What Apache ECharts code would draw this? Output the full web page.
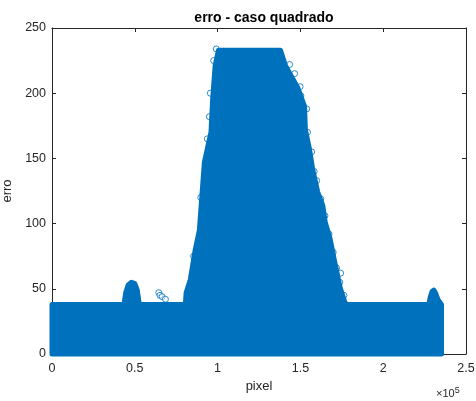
<!DOCTYPE html>
<html>
<head>
<meta charset="utf-8">
<script src="https://cdn.jsdelivr.net/npm/echarts@6/dist/echarts.min.js"></script>
<style>
  html, body { margin: 0; padding: 0; background: #fff; }
  #chart { width: 476px; height: 401px; }
</style>
</head>
<body>
<div id="chart"></div>
<script>
// Upper envelope of the error scatter (pixel index -> erro)
const envX = [0, 43500, 44500, 46000, 48000, 50000, 51500, 52500, 53000,
  80500, 81000, 83500, 86500, 89000, 92000, 96000, 97000, 98500, 100500,
  138000, 141000, 148500, 152500, 153000, 155500, 157500, 160500, 163500,
  165000, 168000, 170500, 174000, 177000, 178500,
  227500, 228500, 229500, 230500, 231500, 233000, 234000, 235200];
const envY = [38, 38, 47, 53, 55, 54, 49, 40, 38,
  38, 47, 57, 80, 95, 147, 170, 195, 221, 233,
  233, 221, 204, 190, 172, 157, 141, 124, 114,
  101, 88, 72, 51, 39, 38,
  38, 44, 48, 49, 47, 42, 40, 38];

// Isolated points sitting just outside the dense region
const edgeX = [64500, 65200, 66500, 68500, 85500, 89800, 93800, 95000, 95600, 97600, 99200,
  143500, 146500, 149800, 150300, 153800, 154300, 156800, 158300, 159800,
  162300, 164800, 167300, 169800, 171800, 173800, 176300, 174300];
const edgeY = [47, 45, 44, 42, 75, 120, 165, 182, 200, 225, 234,
  222, 215, 205, 198, 188, 170, 155, 140, 133,
  119, 106, 92, 78, 66, 55, 45, 62];

const xTicks = [0, 50000, 100000, 150000, 200000, 250000];
const yTicks = [0, 50, 100, 150, 200, 250];

const BLUE = '#0072BD';
const INK = '#262626';
const FONT = '"Liberation Sans", Arial, Helvetica, sans-serif';

const chart = echarts.init(document.getElementById('chart'), null, { renderer: 'canvas' });

const baseX = {
  type: 'value', min: xTicks[0], max: xTicks[xTicks.length - 1],
  interval: xTicks[1] - xTicks[0],
  splitLine: { show: false },
  axisLine: { show: true, onZero: false, lineStyle: { color: INK, width: 1 } },
  axisTick: { show: true, inside: true, length: 4, lineStyle: { color: INK } }
};
const baseY = {
  type: 'value', min: yTicks[0], max: yTicks[yTicks.length - 1],
  interval: yTicks[1] - yTicks[0],
  splitLine: { show: false },
  axisLine: { show: true, onZero: false, lineStyle: { color: INK, width: 1 } },
  axisTick: { show: true, inside: true, length: 4, lineStyle: { color: INK } }
};

chart.setOption({
  animation: false,
  backgroundColor: '#ffffff',
  title: {
    text: 'erro - caso quadrado',
    left: 259, top: 6, textAlign: 'center',
    textStyle: { fontFamily: FONT, fontSize: 14, fontWeight: 'bold', color: '#000' }
  },
  grid: { left: 52, right: 10, top: 28, bottom: 47, containLabel: false, outerBoundsMode: 'none' },
  xAxis: [
    Object.assign({}, baseX, {
      position: 'bottom',
      name: 'pixel', nameLocation: 'middle', nameGap: 26,
      nameTextStyle: { fontFamily: FONT, fontSize: 13, color: INK },
      axisLabel: {
        show: true, margin: 8, fontFamily: FONT, fontSize: 12.5, color: INK,
        formatter: v => String(v / 100000)
      }
    }),
    Object.assign({}, baseX, { position: 'top', axisLabel: { show: false } })
  ],
  yAxis: [
    Object.assign({}, baseY, {
      position: 'left',
      name: 'erro', nameLocation: 'middle', nameGap: 26, nameRotate: 90,
      nameTextStyle: { fontFamily: FONT, fontSize: 13, color: INK },
      axisLabel: { show: true, margin: 6, fontFamily: FONT, fontSize: 12.5, color: INK }
    }),
    Object.assign({}, baseY, { position: 'right', axisLabel: { show: false } })
  ],
  graphic: [{
    type: 'text', left: 436, top: 386,
    style: {
      text: '×10{s|5}',
      font: '11px ' + FONT, fill: INK,
      rich: { s: { fontSize: 9, verticalAlign: 'top', padding: [0, 0, 6, 0] } }
    }
  }],
  series: [
    {
      type: 'custom',
      xAxisIndex: 0, yAxisIndex: 0,
      clip: false,
      data: envX.map((x, i) => [x, envY[i]]),
      renderItem: function (params, api) {
        if (params.dataIndex !== 0) return null;
        const pts = [api.coord([envX[0], 0])];
        for (let i = 0; i < envX.length; i++) pts.push(api.coord([envX[i], envY[i]]));
        pts.push(api.coord([envX[envX.length - 1], 0]));
        return {
          type: 'polygon',
          shape: { points: pts },
          style: { fill: BLUE, stroke: BLUE, lineWidth: 5, lineJoin: 'round' }
        };
      },
      z: 3
    },
    {
      type: 'scatter',
      xAxisIndex: 0, yAxisIndex: 0,
      data: edgeX.map((x, i) => [x, edgeY[i]]),
      symbol: 'circle', symbolSize: 6,
      itemStyle: { color: 'rgba(255,255,255,0.6)', borderColor: BLUE, borderWidth: 1 },
      z: 2
    }
  ]
});
</script>
</body>
</html>
